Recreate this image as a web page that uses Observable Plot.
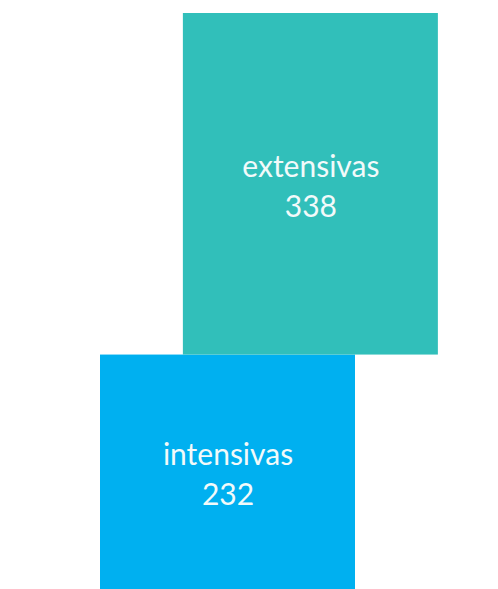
<!DOCTYPE html>
<html>
<head>
<meta charset="utf-8">
<script src="https://cdn.jsdelivr.net/npm/d3@7"></script>
<script src="https://cdn.jsdelivr.net/npm/@observablehq/plot@0.6"></script>
<style>
  html, body { margin: 0; padding: 0; background: #fff; }
  #chart svg { display: block; }
</style>
</head>
<body>
<div id="chart"></div>
<script>
// Data (stacked bottom-up: intensivas first, then extensivas)
const categories = ["intensivas", "extensivas"];
const values = [232, 338];
const colors = ["#00B0F0", "#31BFBA"];

const shift = 0.325; // horizontal offset between consecutive boxes, in box widths
let acc = 0;
const rows = categories.map((c, i) => {
  const r = { category: c, value: values[i], y1: acc, y2: acc + values[i], x1: i * shift, x2: i * shift + 1, color: colors[i] };
  acc += values[i];
  return r;
});

const chart = Plot.plot({
  width: 498,
  height: 589,
  marginTop: 13,
  marginBottom: 0,
  marginLeft: 0,
  marginRight: 0,
  x: { domain: [-100 / 255, 398 / 255], axis: null },
  y: { domain: [0, acc], axis: null },
  style: { fontFamily: "Lato, 'Open Sans', sans-serif", background: "#fff" },
  marks: [
    Plot.rect(rows, { x1: "x1", x2: "x2", y1: "y1", y2: "y2", fill: "color" }),
    Plot.text(rows, {
      x: d => (d.x1 + d.x2) / 2,
      y: d => (d.y1 + d.y2) / 2,
      text: d => `${d.category}\n${d.value}`,
      fill: "#F2FAFA",
      fontSize: 30,
      lineHeight: 1.33,
      dy: 0,
      textAnchor: "middle"
    })
  ]
});
document.getElementById("chart").appendChild(chart);
</script>
</body>
</html>
